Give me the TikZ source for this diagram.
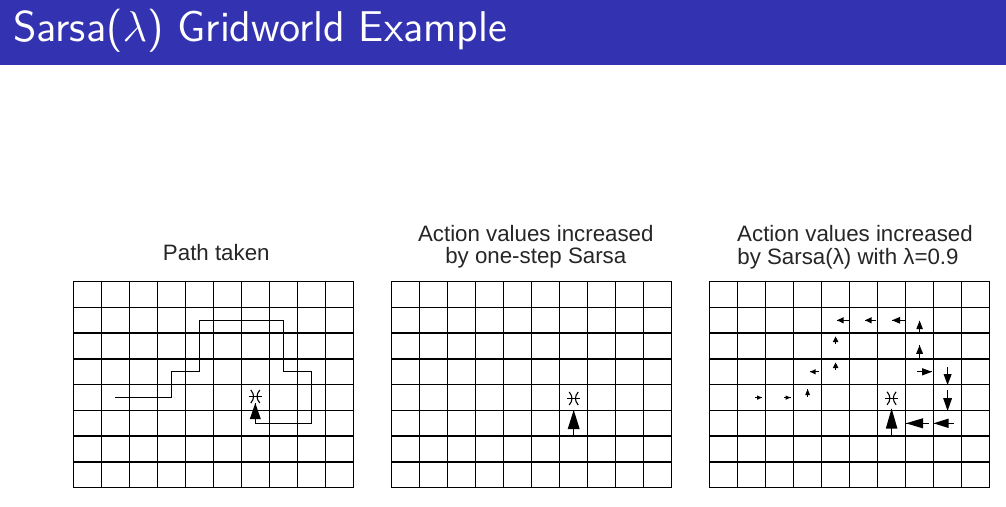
\documentclass[tikz,border=0pt]{standalone}
\usepackage{fontspec}
\newfontfamily\figfont{Liberation Sans}
\definecolor{titleblue}{RGB}{51,51,178}

% arrow for an action value: tip x, tip y, dir x, dir y, length, head length, head half width
\newcommand\valarrow[7]{%
  \draw[valstem] (#1,#2) -- ++({-(#3)*(#5)},{-(#4)*(#5)});
  \fill[valhead] (#1,#2) -- ++({-(#3)*(#6)+(#4)*(#7)},{-(#4)*(#6)-(#3)*(#7)})
    -- ++({-2*(#4)*(#7)},{2*(#3)*(#7)}) -- cycle;}

\begin{document}
\begin{tikzpicture}[x=1pt,y=-1pt,
  gridline/.style={line width=1.5pt,black,line cap=rect},
  route/.style={line width=1.2pt,black},
  valstem/.style={line width=1.3pt,black},
  valhead/.style={black},
  panelhead/.style={font=\figfont\fontsize{22.3}{26}\selectfont,inner sep=0pt,anchor=base,text=black!85},
  goalmark/.pic={
    \draw[line width=1.1pt] (-6.5,0) -- (6.5,0);
    \draw[line width=1.1pt] (-4.5,-6.5) .. controls (-0.8,-2) and (-0.8,2) .. (-4.5,6.5);
    \draw[line width=1.1pt] (4.5,-6.5) .. controls (0.8,-2) and (0.8,2) .. (4.5,6.5);
  }]
\useasboundingbox (0,0) rectangle (1006,506);
\fill[white] (0,0) rectangle (1006,506);

% title bar
\fill[titleblue] (0,0) rectangle (1006,65);
\node[anchor=base west,inner sep=0pt,text=white,font=\sffamily\Large,scale=2.99]
  (title) at (12.5,41.7) {Sarsa($\lambda$) Gridworld Example};

% three 10x8 gridworlds
\foreach \gx in {73.3,391.7,709.6} {
  \foreach \i in {0,...,10}
    \draw[gridline] ({\gx+28*\i},281.7) -- ({\gx+28*\i},487.7);
  \foreach \j in {0,...,8}
    \draw[gridline] (\gx,{281.7+25.75*\j}) -- ({\gx+280},{281.7+25.75*\j});
}

% panel headings
\node[panelhead] (headA) at (216.3,260.7) {Path taken};
\node[panelhead] (headB1) at (535.8,241.7) {Action values increased};
\node[panelhead] (headB2) at (535.8,263.2) {by one-step Sarsa};
\node[panelhead] (headC1) at (855,241.7) {Action values increased};
\node[panelhead] (headC2) at (848,264) {by Sarsa(λ) with λ=0.9};

% path taken by the agent
\coordinate (start) at (115.3,397.6);
\coordinate (last) at (255.3,423.3);
\draw[route] (start) -- (171.3,397.6) -- (171.3,371.8) -- (199.3,371.8)
  -- (199.3,320.3) -- (283.3,320.3) -- (283.3,371.8) -- (311.3,371.8)
  -- (311.3,423.3) -- (last);
\valarrow{255.3}{403}{0}{-1}{20.3}{16}{5.5}
\pic (goalA) at (255.3,396.5) {goalmark};

% one-step Sarsa
\valarrow{573.7}{410}{0}{-1}{26}{19}{6}
\pic (goalB) at (573.7,398.5) {goalmark};

% Sarsa(lambda)
\valarrow{762}{397.6}{1}{0}{7}{5}{2.2}
\valarrow{790.5}{397.6}{1}{0}{7}{5}{2.2}
\valarrow{807.6}{389}{0}{-1}{8}{6}{2.4}
\valarrow{810}{371.8}{-1}{0}{8.5}{5.5}{2.6}
\valarrow{835.6}{362.5}{0}{-1}{7}{5.5}{2.8}
\valarrow{835.6}{336.5}{0}{-1}{7}{5.5}{2.8}
\valarrow{837}{320.3}{-1}{0}{11.5}{6.5}{3.1}
\valarrow{865}{320.3}{-1}{0}{11}{6.5}{3.1}
\valarrow{892}{320.3}{-1}{0}{13}{8}{3.4}
\valarrow{919.6}{320.5}{0}{-1}{12.5}{8.5}{3.3}
\valarrow{919.6}{345.3}{0}{-1}{13}{8.5}{3.5}
\valarrow{932}{371.8}{1}{0}{15}{10}{3.7}
\valarrow{947.6}{385}{0}{1}{18.5}{11}{4.1}
\valarrow{947.6}{411}{0}{1}{21.5}{13}{4.5}
\valarrow{933.5}{423.3}{-1}{0}{20.5}{15}{4.7}
\valarrow{906}{423.3}{-1}{0}{23}{17}{5.1}
\valarrow{891.6}{408.5}{0}{-1}{27}{20}{5.8}
\pic (goalC) at (891.6,398.3) {goalmark};
\end{tikzpicture}
\end{document}
